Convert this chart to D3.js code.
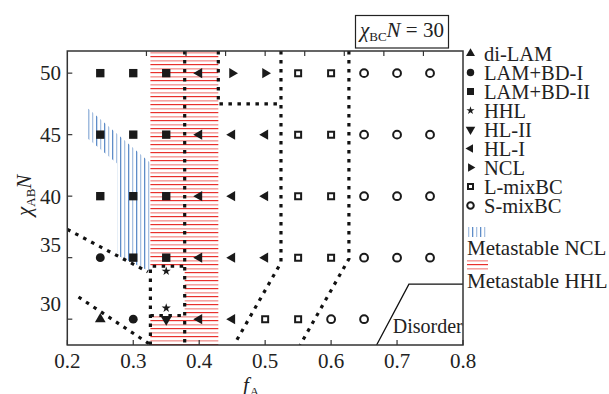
<!DOCTYPE html>
<html>
<head>
<meta charset="utf-8">
<script src="https://cdn.jsdelivr.net/npm/d3@7/dist/d3.min.js"></script>
<style>
  body { margin: 0; background: #fff; }
  text { font-family: "Liberation Serif", "Times New Roman", Times, serif; fill: #222; }
</style>
</head>
<body>
<div id="chart"></div>
<script>
// ---- data ----
const fValues = [0.25, 0.30, 0.35, 0.40, 0.45, 0.50, 0.55, 0.60, 0.65, 0.70, 0.75];
const chiValues = [50, 45, 40, 35, 30];
// one row per chiValues entry, one code per fValues entry ("-" = nothing drawn)
const phaseGrid = [
    ["S", "S", "S", "L", "R", "R", "Q", "Q", "O", "O", "O"],
    ["S", "S", "S", "L", "L", "L", "Q", "Q", "O", "O", "O"],
    ["S", "S", "S", "L", "L", "L", "Q", "Q", "O", "O", "O"],
    ["C", "S", "S", "L", "L", "L", "Q", "Q", "O", "O", "O"],
    ["T", "C", "D", "L", "L", "Q", "Q", "O", "O", "-", "-"]
];
const hhlPoints = [[0.35, 33.9], [0.35, 30.9]];

const legendCodes = ["T", "C", "S", "H", "D", "L", "R", "Q", "O"];
const legendNames = ["di-LAM", "LAM+BD-I", "LAM+BD-II", "HHL", "HL-II", "HL-I", "NCL", "L-mixBC", "S-mixBC"];

const xTicks = [0.2, 0.3, 0.4, 0.5, 0.6, 0.7, 0.8];
const xTopTicks = [0.32, 0.38, 0.44, 0.50, 0.56, 0.62, 0.68, 0.74];
const yTicks = [50, 45, 40, 35, 30];

// phase boundaries (dotted), [fA, chiN]
const boundaries = [
    [[0.2, 37.3], [0.322, 33.85]],
    [[0.217, 31.8], [0.324, 28.0]],
    [[0.326, 27.9], [0.326, 34.3], [0.378, 34.3]],
    [[0.326, 30.3], [0.378, 30.3]],
    [[0.378, 51.8], [0.378, 27.9]],
    [[0.429, 51.8], [0.429, 47.5], [0.524, 47.5]],
    [[0.524, 51.8], [0.524, 34.6], [0.457, 28.3]],
    [[0.627, 51.8], [0.627, 34.9], [0.553, 27.9]]
];
const disorderLine = [[0.669, 27.9], [0.718, 32.85], [0.8, 32.85]];
const metaNCL = [[0.232, 47.1], [0.326, 42.7], [0.326, 33.85], [0.2755, 35.2], [0.2755, 42.65], [0.232, 44.65]];
const metaHHL = [[0.326, 51.8], [0.429, 51.8], [0.429, 27.9], [0.326, 27.9], [0.326, 30.3],
                 [0.378, 30.3], [0.378, 34.3], [0.326, 34.3]];

// ---- chart ----
const W = 609, H = 394;
const plot = { left: 67.3, right: 463, top: 51, bottom: 345 };

const svg = d3.select("#chart").append("svg")
    .attr("width", W).attr("height", H);

const x = d3.scaleLinear().domain([0.2, 0.8]).range([plot.left, plot.right]);
const y = d3.scaleLinear().domain([27.9, 51.8]).range([plot.bottom, plot.top]);

const defs = svg.append("defs");
defs.append("clipPath").attr("id", "clip")
    .append("rect")
    .attr("x", plot.left).attr("y", plot.top)
    .attr("width", plot.right - plot.left).attr("height", plot.bottom - plot.top);

const pBlue = defs.append("pattern").attr("id", "hatchBlue")
    .attr("patternUnits", "userSpaceOnUse").attr("width", 8).attr("height", 8);
pBlue.append("rect").attr("x", 0).attr("y", 0).attr("width", 1.3).attr("height", 8).attr("fill", "#5f8dc8");
pBlue.append("rect").attr("x", 4).attr("y", 0).attr("width", 1.3).attr("height", 8).attr("fill", "#a8c1e2");

const pRed = defs.append("pattern").attr("id", "hatchRed")
    .attr("patternUnits", "userSpaceOnUse").attr("width", 8).attr("height", 8);
pRed.append("rect").attr("x", 0).attr("y", 0).attr("width", 8).attr("height", 1.2).attr("fill", "#e8302c");
pRed.append("rect").attr("x", 0).attr("y", 4).attr("width", 8).attr("height", 1.6).attr("fill", "#f5a3a1");

const g = svg.append("g").attr("clip-path", "url(#clip)");

const line = d3.line().x(d => x(d[0])).y(d => y(d[1]));

g.append("path").datum(metaNCL)
    .attr("d", d => line(d) + "Z")
    .attr("fill", "url(#hatchBlue)");
g.append("path").datum(metaHHL)
    .attr("d", d => line(d) + "Z")
    .attr("fill", "url(#hatchRed)");

g.selectAll(".boundary")
    .data(boundaries)
    .enter().append("path")
    .attr("class", "boundary")
    .attr("d", line)
    .attr("fill", "none")
    .attr("stroke", "#111")
    .attr("stroke-width", 3.2)
    .attr("stroke-dasharray", "3.5,5.5");

g.append("path").datum(disorderLine)
    .attr("d", line)
    .attr("fill", "none")
    .attr("stroke", "#111")
    .attr("stroke-width", 1.3);

svg.append("text")
    .attr("x", x(0.6935)).attr("y", y(28.9))
    .attr("font-size", "20px")
    .text("Disorder");

// ---- markers ----
function markerSpec(code) {
    switch (code) {
        case "T": return { type: d3.symbolTriangle, size: 50, rot: 0, open: false };
        case "C": return { type: d3.symbolCircle, size: 62, rot: 0, open: false };
        case "S": return { type: d3.symbolSquare, size: 70, rot: 0, open: false };
        case "H": return { type: d3.symbolStar, size: 26, rot: 0, open: false };
        case "D": return { type: d3.symbolTriangle, size: 56, rot: 180, open: false };
        case "L": return { type: d3.symbolTriangle, size: 46, rot: -90, open: false };
        case "R": return { type: d3.symbolTriangle, size: 44, rot: 90, open: false };
        case "Q": return { type: d3.symbolSquare, size: 36, rot: 0, open: true };
        case "O": return { type: d3.symbolCircle, size: 48, rot: 0, open: true };
    }
}

function drawMarker(sel, code, cx, cy, scale) {
    const s = markerSpec(code);
    sel.append("path")
        .attr("d", d3.symbol().type(s.type).size(s.size * scale)())
        .attr("transform", `translate(${cx},${cy}) rotate(${s.rot})`)
        .attr("fill", s.open ? "#fff" : "#1a1a1a")
        .attr("stroke", s.open ? "#1a1a1a" : "none")
        .attr("stroke-width", s.open ? 2 : 0);
}

const mg = svg.append("g");
phaseGrid.forEach((row, i) => {
    row.forEach((code, j) => {
        if (code === "-") return;
        drawMarker(mg, code, x(fValues[j]), y(chiValues[i]), 1);
    });
});
hhlPoints.forEach(p => drawMarker(mg, "H", x(p[0]), y(p[1]), 1));

// ---- frame and ticks ----
svg.append("rect")
    .attr("x", plot.left).attr("y", plot.top)
    .attr("width", plot.right - plot.left).attr("height", plot.bottom - plot.top)
    .attr("fill", "none").attr("stroke", "#333").attr("stroke-width", 1.5);

svg.selectAll(".xtick").data(xTicks).enter().append("line")
    .attr("x1", d => x(d)).attr("x2", d => x(d))
    .attr("y1", plot.bottom).attr("y2", plot.bottom - 5)
    .attr("stroke", "#333").attr("stroke-width", 1.2);
svg.selectAll(".xtopTick").data(xTopTicks).enter().append("line")
    .attr("x1", d => x(d)).attr("x2", d => x(d))
    .attr("y1", plot.top).attr("y2", plot.top + 5)
    .attr("stroke", "#333").attr("stroke-width", 1.2);
svg.selectAll(".ytick").data(yTicks).enter().append("line")
    .attr("x1", plot.left).attr("x2", plot.left + 5)
    .attr("y1", d => y(d)).attr("y2", d => y(d))
    .attr("stroke", "#333").attr("stroke-width", 1.2);

svg.selectAll(".xlabel").data(xTicks).enter().append("text")
    .attr("x", d => x(d)).attr("y", 368)
    .attr("text-anchor", "middle")
    .attr("font-size", "21px")
    .text(d => d3.format(".1f")(d));

// the two lowest labels sit a little above their ticks in the original
const yLabelShift = { 35: -13, 30: -16 };
svg.selectAll(".ylabel").data(yTicks).enter().append("text")
    .attr("x", 61).attr("y", d => y(d) + (yLabelShift[d] || 0))
    .attr("dy", "0.35em")
    .attr("text-anchor", "end")
    .attr("font-size", "21px")
    .text(d => d);

// axis titles
const xt = svg.append("text").attr("x", 243).attr("y", 392).attr("font-size", "21px");
xt.append("tspan").attr("font-style", "italic").text("f");
xt.append("tspan").attr("font-size", "13px").attr("dy", 4).attr("dx", 1).text("A");

const yt = svg.append("text")
    .attr("transform", "translate(31,216) rotate(-90)")
    .attr("font-size", "21px");
yt.append("tspan").attr("font-style", "italic").text("χ");
yt.append("tspan").attr("font-size", "13px").attr("dy", 4).text("AB");
yt.append("tspan").attr("font-style", "italic").attr("dy", -4).text("N");

// title box
svg.append("rect")
    .attr("x", 355.5).attr("y", 15.5).attr("width", 93).attr("height", 32.5)
    .attr("fill", "#fff").attr("stroke", "#222").attr("stroke-width", 1.2);
const tt = svg.append("text").attr("x", 360).attr("y", 37).attr("font-size", "21px");
tt.append("tspan").attr("font-style", "italic").text("χ");
tt.append("tspan").attr("font-size", "13px").attr("dy", 4).text("BC");
tt.append("tspan").attr("font-style", "italic").attr("dy", -4).text("N");
tt.append("tspan").text(" = 30");

// ---- legend ----
const lg = svg.append("g");
legendCodes.forEach((code, i) => {
    const cy = 53.5 + i * 19;
    drawMarker(lg, code, 470.5, cy, code === "H" ? 0.8 : 0.7);
    lg.append("text")
        .attr("x", 484).attr("y", cy + 7)
        .attr("font-size", "20.5px")
        .text(legendNames[i]);
});

lg.append("rect")
    .attr("x", 467).attr("y", 227).attr("width", 21).attr("height", 10)
    .attr("fill", "url(#hatchBlue)");
lg.append("text").attr("x", 467).attr("y", 255).attr("font-size", "21px").text("Metastable NCL");
lg.append("rect")
    .attr("x", 467).attr("y", 260).attr("width", 21).attr("height", 11)
    .attr("fill", "url(#hatchRed)");
lg.append("text").attr("x", 467).attr("y", 288).attr("font-size", "21px").text("Metastable HHL");
</script>
</body>
</html>
